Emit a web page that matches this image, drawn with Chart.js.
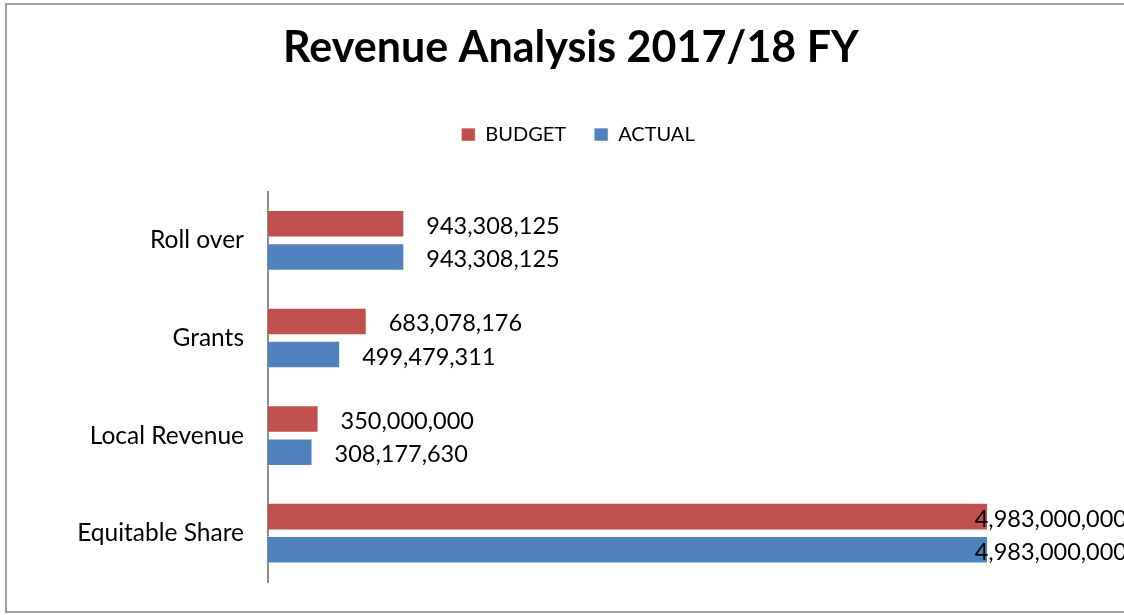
<!DOCTYPE html>
<html>
<head>
<meta charset="utf-8">
<script src="https://cdn.jsdelivr.net/npm/chart.js@4.4.1/dist/chart.umd.min.js"></script>
<style>
    html, body { margin: 0; padding: 0; background: #fff; overflow: hidden; }
    #chart {
        position: absolute;
        left: 5px;
        top: 3px;
        width: 1132px;
        height: 606px;
        border: 2px solid #a0a0a0;
    }
</style>
</head>
<body>
<div id="chart"><canvas id="revenue"></canvas></div>
<script>
// chart data
const categories = ['Roll over', 'Grants', 'Local Revenue', 'Equitable Share'];
const budget = [943308125, 683078176, 350000000, 4983000000];
const actual = [943308125, 499479311, 308177630, 4983000000];

const FONT = 'Lato, "Open Sans", sans-serif';

// value labels placed just past the bar end, pushed back inside the plot if they don't fit
const valueLabels = {
    id: 'valueLabels',
    afterDatasetsDraw(chart) {
        const ctx = chart.ctx;
        const area = chart.chartArea;
        ctx.save();
        ctx.font = '23.5px ' + FONT;
        ctx.fillStyle = '#000';
        ctx.textBaseline = 'middle';
        ctx.textAlign = 'left';
        chart.data.datasets.forEach((ds, i) => {
            chart.getDatasetMeta(i).data.forEach((bar, j) => {
                const text = ds.data[j].toLocaleString('en-US');
                const w = ctx.measureText(text).width;
                let x = bar.x + 22;
                if (x + w > area.right - 8) x = area.right - 8 - w;
                ctx.fillText(text, x, bar.y + 2.5);
            });
        });
        ctx.restore();
    }
};

// extra room under the legend and a small nudge to the right, as in the original
const legendSpace = {
    id: 'legendSpace',
    beforeInit(chart) {
        const legend = chart.legend;
        const fit = legend.fit;
        legend.fit = function () {
            fit.apply(legend, arguments);
            this.height += 37;
        };
        const draw = legend.draw;
        legend.draw = function () {
            const ctx = legend.ctx;
            ctx.save();
            ctx.translate(7, 0);
            draw.apply(legend, arguments);
            ctx.restore();
        };
    }
};

new Chart(document.getElementById('revenue'), {
    type: 'bar',
    data: {
        labels: categories,
        datasets: [
            {
                label: 'BUDGET',
                data: budget,
                backgroundColor: '#C0504D',
                borderColor: 'rgba(255,255,255,0.6)',
                borderWidth: 1,
                categoryPercentage: 0.68,
                barPercentage: 0.83
            },
            {
                label: 'ACTUAL',
                data: actual,
                backgroundColor: '#4F81BD',
                borderColor: 'rgba(255,255,255,0.6)',
                borderWidth: 1,
                categoryPercentage: 0.68,
                barPercentage: 0.83
            }
        ]
    },
    options: {
        indexAxis: 'y',
        responsive: true,
        maintainAspectRatio: false,
        animation: false,
        layout: {
            padding: { left: 0, right: 4, top: 0, bottom: 29 }
        },
        plugins: {
            title: {
                display: true,
                text: 'Revenue Analysis 2017/18 FY',
                color: '#000',
                font: { family: FONT, size: 43, weight: 'bold' },
                padding: { top: 17, bottom: 23 }
            },
            legend: {
                display: true,
                position: 'top',
                labels: {
                    color: '#000',
                    font: { family: FONT, size: 20 },
                    boxWidth: 14,
                    boxHeight: 13,
                    padding: 28
                }
            },
            tooltip: { enabled: false }
        },
        scales: {
            x: {
                display: false,
                min: 0,
                max: 6000000000
            },
            y: {
                afterFit: (scale) => {
                    scale.width = 261;
                    scale.paddingTop = 0;
                    scale.paddingBottom = 0;
                },
                grid: { display: false, drawTicks: false },
                border: { display: true, color: '#8a8a8a', width: 2 },
                ticks: {
                    color: '#000',
                    padding: 24,
                    font: { family: FONT, size: 24.5 }
                }
            }
        }
    },
    plugins: [valueLabels, legendSpace]
});
</script>
</body>
</html>
